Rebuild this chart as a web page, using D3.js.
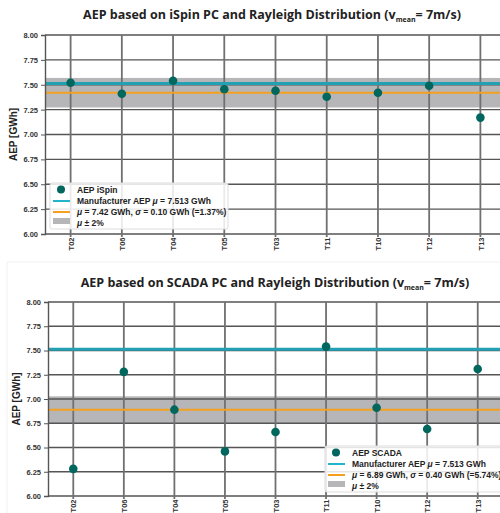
<!DOCTYPE html>
<meta charset="utf-8">
<script src="https://d3js.org/d3.v7.min.js"></script>
<style>
  body { margin: 0; background: #fff; }
  svg { font-family: "Liberation Sans", Arial, sans-serif; }
</style>
<div id="chart"></div>
<script>

  // turbines, in plot order
  var turbines = ["T02", "T06", "T04", "T05", "T03", "T11", "T10", "T12", "T13"];
  // AEP values [GWh]
  var aepIspin = [7.52, 7.41, 7.54, 7.455, 7.44, 7.38, 7.42, 7.49, 7.17];
  var aepScada = [6.28, 7.28, 6.89, 6.46, 6.66, 7.54, 6.91, 6.69, 7.31];
  var manufacturerAep = 7.513;
  // mean / sigma as printed in the legends
  var muIspin = 7.42, sigmaIspin = 0.10, pctIspin = "1.37%";
  var muScada = 6.89, sigmaScada = 0.40, pctScada = "5.74%";
  var yTicks = [6.00, 6.25, 6.50, 6.75, 7.00, 7.25, 7.50, 7.75, 8.00];

  var svg = d3.select("#chart").append("svg")
    .attr("width", 500)
    .attr("height", 513);

  // faint frame round the second picture
  svg.append("rect")
    .attr("x", 7).attr("y", 262).attr("width", 500).attr("height", 260)
    .style("fill", "none").style("stroke", "#f2f2f2");

  function drawPanel(cfg) {
    var x = d3.scalePoint().domain(turbines).range(cfg.xr).padding(0.5);
    var y = d3.scaleLinear().domain([6, 8]).range(cfg.yr);
    var mu = cfg.mu;
    var g = svg.append("g");

    // title
    var t = g.append("text")
      .attr("x", cfg.titleX).attr("y", cfg.titleY)
      .attr("text-anchor", "middle")
      .style("font-family", "'Open Sans', sans-serif")
      .style("font-weight", "bold")
      .style("font-size", "12.5px")
      .style("fill", "#222");
    t.append("tspan").text(cfg.title + " (v");
    t.append("tspan").attr("dy", 3).style("font-size", "7px").text("mean");
    t.append("tspan").attr("dy", -3).text("= 7m/s)");

    // grey band mu +- 2%
    g.append("rect")
      .attr("x", cfg.xr[0]).attr("width", cfg.xr[1] - cfg.xr[0])
      .attr("y", y(mu * 1.02)).attr("height", y(mu * 0.98) - y(mu * 1.02))
      .style("fill", "#b6b6b8");

    // grid
    g.selectAll(".hg").data(yTicks).enter().append("line")
      .attr("x1", cfg.xr[0]).attr("x2", cfg.xr[1])
      .attr("y1", function (d) { return y(d); }).attr("y2", function (d) { return y(d); })
      .style("stroke", "#555").style("stroke-width", 1.4);
    g.selectAll(".vg").data(turbines).enter().append("line")
      .attr("x1", function (d) { return x(d); }).attr("x2", function (d) { return x(d); })
      .attr("y1", cfg.yr[1]).attr("y2", cfg.yr[0] + 3)
      .style("stroke", "#707070").style("stroke-width", 1.8);

    // manufacturer and mean lines
    g.append("line")
      .attr("x1", cfg.xr[0]).attr("x2", cfg.xr[1])
      .attr("y1", y(manufacturerAep)).attr("y2", y(manufacturerAep))
      .style("stroke", "#22a0b4").style("stroke-width", 3);
    g.append("line")
      .attr("x1", cfg.xr[0]).attr("x2", cfg.xr[1])
      .attr("y1", y(mu)).attr("y2", y(mu))
      .style("stroke", "#f5a020").style("stroke-width", 2);

    // axes
    var ya = g.append("g")
      .attr("transform", "translate(" + cfg.xr[0] + ",0)")
      .call(d3.axisLeft(y).tickValues(yTicks).tickFormat(d3.format(".2f")).tickSize(4));
    ya.select(".domain").style("stroke", "#555").style("stroke-width", 1.4);
    ya.selectAll("line").style("stroke", "#555");
    ya.selectAll("text").style("font-size", "7.5px").style("font-weight", "bold").style("fill", "#333");

    var xa = g.append("g")
      .attr("transform", "translate(0," + cfg.yr[0] + ")")
      .call(d3.axisBottom(x).tickSize(0));
    xa.select(".domain").remove();
    xa.selectAll("text")
      .attr("transform", "rotate(-90)")
      .attr("x", -3.5).attr("y", 0).attr("dy", "0.35em")
      .attr("text-anchor", "end")
      .style("font-size", "7.5px").style("font-weight", "bold").style("fill", "#333");

    // y label
    g.append("text")
      .attr("transform", "rotate(-90)")
      .attr("x", -(cfg.yr[0] + cfg.yr[1]) / 2).attr("y", cfg.xr[0] - 28)
      .attr("text-anchor", "middle")
      .style("font-size", "10px").style("font-weight", "bold").style("fill", "#222")
      .text("AEP [GWh]");

    // points
    g.selectAll(".pt").data(cfg.values).enter().append("circle")
      .attr("cx", function (d, i) { return x(turbines[i]); })
      .attr("cy", function (d) { return y(d); })
      .attr("r", 4.3)
      .style("fill", "#00675f");

    // legend
    var lg = g.append("g").attr("transform", "translate(" + cfg.legX + "," + cfg.legY + ")");
    lg.append("rect")
      .attr("width", cfg.legW).attr("height", 46).attr("rx", 2)
      .style("fill", "#fff").style("fill-opacity", 0.85)
      .style("stroke", "#dddddd");
    lg.append("circle").attr("cx", 11).attr("cy", 6.5).attr("r", 4).style("fill", "#00675f");
    lg.append("line").attr("x1", 3).attr("x2", 20).attr("y1", 18).attr("y2", 18)
      .style("stroke", "#22b4c8").style("stroke-width", 2);
    lg.append("line").attr("x1", 3).attr("x2", 20).attr("y1", 29).attr("y2", 29)
      .style("stroke", "#f5a020").style("stroke-width", 2);
    lg.append("rect").attr("x", 3).attr("y", 35).attr("width", 17).attr("height", 6)
      .style("fill", "#b6b6b8");

    var lt = lg.append("g")
      .style("font-size", "8.5px").style("font-weight", "bold").style("fill", "#222");
    lt.append("text").attr("x", 27).attr("y", 9.5).text(cfg.name);
    var l2 = lt.append("text").attr("x", 27).attr("y", 21);
    l2.append("tspan").text("Manufacturer AEP ");
    l2.append("tspan").style("font-style", "italic").text("\u03bc");
    l2.append("tspan").text(" = " + manufacturerAep.toFixed(3) + " GWh");
    var l3 = lt.append("text").attr("x", 27).attr("y", 32);
    l3.append("tspan").style("font-style", "italic").text("\u03bc");
    l3.append("tspan").text(" = " + mu.toFixed(2) + " GWh, ");
    l3.append("tspan").style("font-style", "italic").text("\u03c3");
    l3.append("tspan").text(" = " + cfg.sigma.toFixed(2) + " GWh (=" + cfg.pct + ")");
    var l4 = lt.append("text").attr("x", 27).attr("y", 43);
    l4.append("tspan").style("font-style", "italic").text("\u03bc");
    l4.append("tspan").text(" \u00b1  2%");
  }

  drawPanel({
    title: "AEP based on iSpin PC and Rayleigh Distribution",
    name: "AEP iSpin",
    values: aepIspin,
    mu: muIspin, sigma: sigmaIspin, pct: pctIspin,
    xr: [45, 506], yr: [234, 35],
    titleX: 272, titleY: 19,
    legX: 50, legY: 183, legW: 178
  });

  drawPanel({
    title: "AEP based on SCADA PC and Rayleigh Distribution",
    name: "AEP SCADA",
    values: aepScada,
    mu: muScada, sigma: sigmaScada, pct: pctScada,
    xr: [48, 503], yr: [496, 302],
    titleX: 275, titleY: 287,
    legX: 325, legY: 446, legW: 185
  });

</script>
